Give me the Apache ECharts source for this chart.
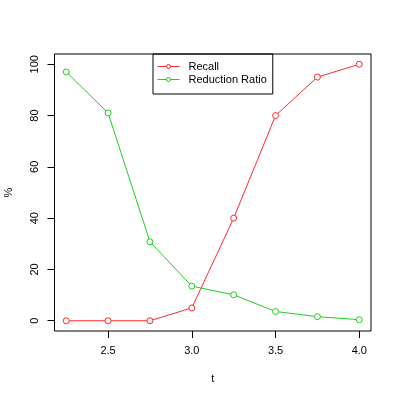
<!DOCTYPE html>
<html><head><meta charset="utf-8">
<script src="https://cdn.jsdelivr.net/npm/echarts@6/dist/echarts.min.js"></script>
<style>html,body{margin:0;padding:0;background:#fff}#c{width:399px;height:399px}</style>
</head><body><div id="c"></div>
<script>
var tValues = [2.25, 2.5, 2.75, 3.0, 3.25, 3.5, 3.75, 4.0];
var recall = [0, 0, 0, 5, 40, 80, 95, 100];
var reductionRatio = [97, 81, 30.8, 13.5, 10.1, 3.6, 1.6, 0.4];
var xTicks = [2.5, 3.0, 3.5, 4.0];
var yTicks = [0, 20, 40, 60, 80, 100];
var seriesNames = ['Recall', 'Reduction Ratio'];
var colors = ['#FF2A2A', '#22CC22'];

function pairs(ys){ return tValues.map(function(t,i){ return [t, ys[i]]; }); }
var font = 'Liberation Sans, Arial, sans-serif';
var chart = echarts.init(document.getElementById('c'), null, {renderer:'canvas'});
function mkSeries(i, ys){
  return {name: seriesNames[i], type: 'line', data: pairs(ys), symbol: 'circle', symbolSize: 6,
    color: colors[i], lineStyle: {width: 1, color: colors[i]},
    itemStyle: {color: '#fff', borderColor: colors[i], borderWidth: 1},
    emphasis: {disabled: true}};
}
chart.setOption({
  animation: false,
  backgroundColor: '#fff',
  grid: {left: 54.5, right: 28, top: 54, bottom: 68, show: true, borderColor: '#000', borderWidth: 1,
    backgroundColor: 'transparent', containLabel: false, outerBoundsMode: 'none'},
  legend: {
    orient: 'vertical', left: 153, top: 54, data: seriesNames,
    borderColor: '#000', borderWidth: 1, borderRadius: 0,
    padding: [6, 6, 8, 4], itemGap: 0, itemWidth: 22, itemHeight: 5,
    itemStyle: {color: '#fff', borderWidth: 1},
    lineStyle: {width: 1},
    textStyle: {fontFamily: font, fontSize: 11, color: '#000', lineHeight: 13, padding: [0,0,0,4]}
  },
  xAxis: {
    type: 'value', min: 2.18, max: 4.07,
    name: 't', nameLocation: 'middle', nameGap: 42,
    nameTextStyle: {fontFamily: font, fontSize: 11, color: '#000'},
    axisLine: {show: false, onZero: false},
    axisTick: {show: true, inside: false, length: 7, customValues: xTicks, lineStyle: {color: '#000'}},
    axisLabel: {customValues: xTicks, margin: 14, fontFamily: font, fontSize: 11, color: '#000',
      formatter: function(v){ return v.toFixed(1); }},
    splitLine: {show: false}
  },
  yAxis: {
    type: 'value', min: -4, max: 104,
    name: '%', nameLocation: 'middle', nameGap: 40, nameRotate: 90,
    nameTextStyle: {fontFamily: font, fontSize: 11, color: '#000'},
    axisLine: {show: false, onZero: false},
    axisTick: {show: true, inside: false, length: 7, customValues: yTicks, lineStyle: {color: '#000'}},
    axisLabel: {customValues: yTicks, rotate: 90, margin: 14, fontFamily: font, fontSize: 11, color: '#000'},
    splitLine: {show: false}
  },
  series: [mkSeries(0, recall), mkSeries(1, reductionRatio)]
});
</script></body></html>
